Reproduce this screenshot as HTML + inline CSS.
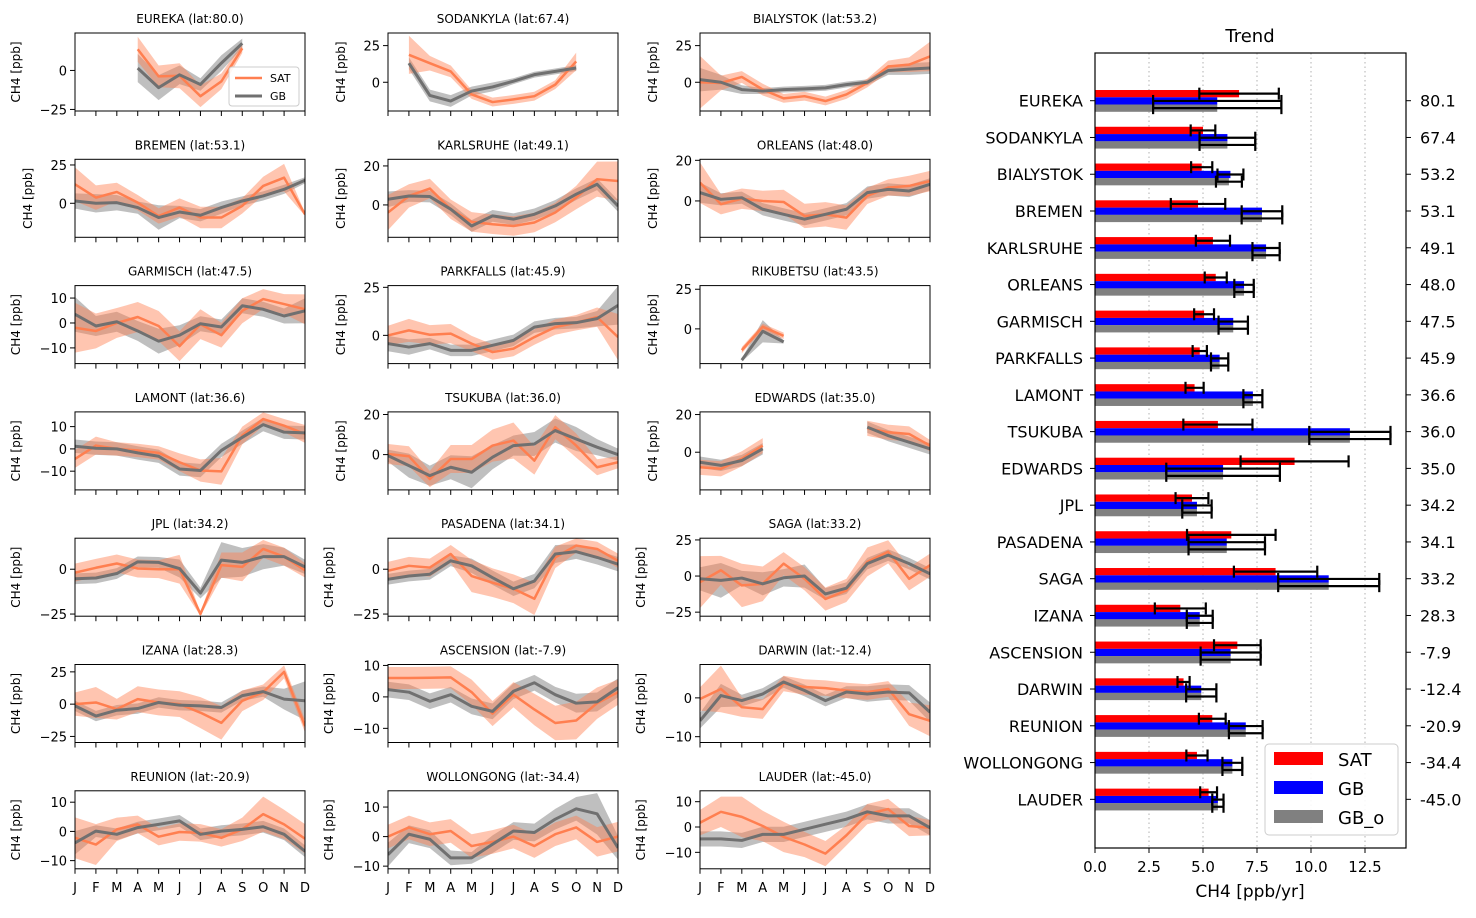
<!DOCTYPE html>
<html><head><meta charset="utf-8">
<style>
html,body{margin:0;padding:0;background:#fff;}
svg{display:block;font-family:"DejaVu Sans","Liberation Sans",sans-serif;}
</style></head>
<body>
<svg id="fig" width="1476" height="918" viewBox="0 0 1476 918" xmlns="http://www.w3.org/2000/svg"></svg>
<script>
// ---------- small panel data ----------
const months = ['J','F','M','A','M','J','J','A','S','O','N','D'];
const stationNames = ['EUREKA','SODANKYLA','BIALYSTOK','BREMEN','KARLSRUHE','ORLEANS','GARMISCH','PARKFALLS','RIKUBETSU','LAMONT','TSUKUBA','EDWARDS','JPL','PASADENA','SAGA','IZANA','ASCENSION','DARWIN','REUNION','WOLLONGONG','LAUDER'];
const stationLats = ['80.0','67.4','53.2','53.1','49.1','48.0','47.5','45.9','43.5','36.6','36.0','35.0','34.2','34.1','33.2','28.3','-7.9','-12.4','-20.9','-34.4','-45.0'];
const N = null;
const satMean = [
 [N,N,N,13.6,-3.8,-3.4,-16.5,-7,14.2,N,N,N],
 [N,18.7,13,7.4,-8.3,-13.5,-11.7,-9.5,-1.6,14.2,N,N],
 [0,-0.5,3.6,-5,-11,-9.5,-12.8,-8.3,-0.5,10.8,12,17.6],
 [12.4,3.7,7.4,0.4,-8.3,-2.8,-9.3,-9.3,-1.7,11.3,16.7,-7.2],
 [-3.9,4.6,8.4,-2.2,-8.7,-9.9,-10.8,-9,-3.9,3.8,13.2,12.3],
 [9,-1.6,1.1,0,-0.5,-7.4,-6.6,-8.2,2.5,6.6,7.4,9.8],
 [-1.9,-3.2,0,2.4,-1.2,-9.3,-0.5,-4.9,4.9,9.6,7.6,5.5],
 [0,2.6,0.3,0.9,-4.3,-8.7,-6.9,-0.9,4.3,6.6,9.5,-0.9],
 [N,N,-13.4,1.3,-4.4,N,N,N,N,N,N,N],
 [-4.5,1.5,0,-0.7,-1.8,-6,-9.7,-10.1,6,13.4,10.4,6.7],
 [0.3,-0.8,-12.2,-2.2,-2.2,4.5,7,-3,13.7,4.5,-6.3,-3.8],
 [-8,-8.8,-3.5,3.5,N,N,N,N,12.7,10.6,9.7,3.5],
 [-1.9,0.8,3.2,0.4,0,0,-25,2.3,1.3,11.3,7,-0.6],
 [-0.9,1.9,0.9,8.5,-3.8,-7.5,-10.9,-16.5,6.6,13.2,11.3,4.7],
 [-4.2,4,-6.5,-5.4,8.6,-1.9,-15.9,-10,9.8,16.8,-1.9,7.5],
 [0,1.3,-3.9,3.9,1.3,0,-6.6,-14.5,2.6,9.2,25,-17],
 [6,6,6.1,6.2,1.5,-5.3,0.7,-4,-8.3,-7.5,-2,1.5],
 [-0.3,2.3,-2.4,-2.9,3.7,2.8,2.5,1.9,1.5,2.3,-4.2,-5.9],
 [-2.2,-4.5,0.7,2.4,-1.8,-0.2,-0.5,-2.2,0.7,5.9,2.4,-2.5],
 [0,3.1,0.8,1.9,-3.2,-1.8,0,-3.2,0.8,3.1,-1.8,0],
 [1.7,6,4,0.4,-3.9,-6.9,-10.5,-3.3,5.1,7.1,0.4,-0.3]
];
const satSpread = [
 [0,0,0,8,7,8,7,5,3,0,0,0],
 [0,13,5,4,3,3,3,3,3,6,0,0],
 [18,5,4,4,3,3,3,3,3,4,5,10],
 [11,8,6,5,5,6,7,7,5,6,9,1],
 [9,6,5,5,5,5,5,5,5,6,9,10],
 [10,5,5,5,6,6,6,6,4,4,5,5],
 [10,7,6,6,6,6,6,5,5,4,4,6],
 [5,6,5,5,4,4,4,4,4,4,5,12],
 [0,0,2,2,2,0,0,0,0,0,0,0],
 [4,4,3,3,3,4,5,6,4,3,3,4],
 [5,5,4,7,7,8,9,7,6,6,4,3],
 [4,4,4,4,0,0,0,0,4,4,4,3],
 [5,5,5,5,5,8,1,7,8,5,5,4],
 [5,5,5,5,9,8,8,9,6,4,4,4],
 [18,10,15,12,8,8,8,8,10,8,8,8],
 [9,12,8,10,10,10,12,13,8,6,5,5],
 [3.5,3.5,3.5,3.5,4,4,4,5,5.5,6,5,4],
 [3,6,2.5,2.5,2,2,2,2,2,2,3,4],
 [7,7,4,3,3,3,3,3,4,6,5,5],
 [4,4,4,4,4,4,4,4,4,4,5,5],
 [5,6,8,6,6,5,5,4,4,4,4,3]
];
const gbMean = [
 [N,N,N,1.5,-11,-2.8,-9,4.7,17.4,N,N,N],
 [N,13,-9,-12.8,-6,-3.2,0.7,5.2,7.4,9.7,N,N],
 [1.8,0,-5,-6,-5,-4.5,-3.8,-1.6,0,8,9,9.7],
 [1.5,0,0.4,-2.8,-9.3,-5.7,-7.8,-2.8,1.5,4.8,9.1,15],
 [2.9,4.6,4.3,-2.2,-10.8,-5.6,-7.3,-4.8,-0.5,5.5,10.6,-0.5],
 [4.1,0.8,1.6,-4.1,-6.6,-9,-6.6,-4.1,4.1,5.7,4.9,8.2],
 [3.5,-1.2,0.5,-3.2,-7.3,-4.9,-0.3,-1.6,6.9,5.5,2.8,4.9],
 [-4.3,-6.1,-4.3,-7.8,-7.8,-5.2,-2.6,4.3,6.1,6.6,8.7,15.6],
 [N,N,-19.7,-1.5,-8.2,N,N,N,N,N,N,N],
 [1.2,0.3,0,-1.8,-3.3,-9,-9.7,-0.7,5.2,10.9,7.5,7.2],
 [-0.5,-5.5,-10.5,-6.3,-8.8,-1.3,4.5,5.3,12,7.8,3.7,0],
 [-5.3,-7,-4.4,1.8,N,N,N,N,13.3,8.8,5.3,1.8],
 [-5.3,-4.9,-2.4,4.1,3.8,0.4,-13.3,5.1,3.8,7,7,1.3],
 [-5.6,-3.8,-2.8,4.7,1.9,-4.7,-10.9,-6.6,8.5,9.8,6.6,2.8],
 [-1.9,-3,-1.4,-5.4,-1.2,0,-12.4,-8.4,8.6,14.5,8.6,1.6],
 [-1.3,-9.2,-4.7,-3.4,1.3,-0.8,-1.3,-2.6,6.6,9.7,3.9,2.6],
 [2.3,1.5,-1.4,0.7,-3,-4.6,1.8,4.5,0.7,-2,-1.6,2.9],
 [-5.9,0.6,-0.7,1,4.1,1.9,-0.7,1.5,1,1.5,1.3,-3.7],
 [-3.9,0.1,-1,1.3,2.4,3.6,-1,0.1,0.7,1.6,-1,-6.8],
 [-6.1,0.8,-0.9,-7.2,-7.2,-2.6,1.9,1.4,5.9,9.4,7.7,-3.8],
 [-4.7,-4.7,-5.3,-2.9,-2.9,-0.9,1.1,3.1,6,4.4,4.4,-0.3]
];
const gbSpread = [
 [0,0,0,9,8,6,4,5,3,0,0,0],
 [0,4,4,4,3,3,2,2,2,2,0,0],
 [8,5,3,2,2,2,2,2,2,3,4,4],
 [5,6,5,4,8,4,4,4,3,3,3,2],
 [4,3,3,3,3,3,3,3,3,3,3,3],
 [5,3,3,3,3,3,3,3,3,3,3,3],
 [7,4,4,4,5,4,3,3,3,3,3,5],
 [4,4,3,3,3,3,3,3,3,3,4,10],
 [0,0,1,7,1,0,0,0,0,0,0,0],
 [3,3,3,3,3,3,3,3,3,3,3,3],
 [3,6,5,6,8,6,5,6,6,6,4,3],
 [3,3,3,3,0,0,0,0,3,3,3,3],
 [3,3,3,3,3,5,3,10,8,7,5,4],
 [3,3,3,3,4,4,4,4,5,4,4,4],
 [8,12,5,8,6,8,4,4,4,4,4,4],
 [4,4,4,4,4,4,4,4,4,4,8,15],
 [2.5,2.5,2.5,2.5,2.5,2.5,2.5,2.5,2.5,3,3,3],
 [2,3,1.5,1.5,1.5,1.5,1.5,1.5,2,2,2,2.5],
 [4,2,2,2,2,2,2,2,2,2,2,2],
 [4,3,3,2.5,2,3,3,3,3.5,4,7,4],
 [3,3,3,3,3,3,3,3,3,3,3,3]
];
const panelYMin = [-26,-19.6,-19.6,-22.2,-16.6,-17.9,-16.3,-14.7,-21.9,-18.4,-17.6,-20,-26.2,-26.2,-27.8,-29.7,-14.5,-11.5,-12.8,-10.9,-16.5];
const panelYMax = [24,33.6,33.6,28.7,23.4,20.5,15,25.9,27.3,16.6,21.3,21.4,17.3,17.3,26.2,30.7,10.3,8.6,13.9,15.5,14.3];
const panelYTicks = [[-25,0],[0,25],[0,25],[0,25],[0,20],[0,20],[-10,0,10],[0,25],[0,25],[-10,0,10],[0,20],[0,20],[-25,0],[-25,0],[-25,0,25],[-25,0,25],[-10,0,10],[-10,0],[-10,0,10],[-10,0,10],[-10,0,10]];

// ---------- trend bar chart data ----------
const trendStations = ['EUREKA','SODANKYLA','BIALYSTOK','BREMEN','KARLSRUHE','ORLEANS','GARMISCH','PARKFALLS','LAMONT','TSUKUBA','EDWARDS','JPL','PASADENA','SAGA','IZANA','ASCENSION','DARWIN','REUNION','WOLLONGONG','LAUDER'];
const trendLats = ['80.1','67.4','53.2','53.1','49.1','48.0','47.5','45.9','36.6','36.0','35.0','34.2','34.1','33.2','28.3','-7.9','-12.4','-20.9','-34.4','-45.0'];
const satTrend = [6.67,5.0,4.94,4.77,5.46,5.59,5.05,4.85,4.61,5.69,9.24,4.49,6.31,8.36,3.95,6.59,4.1,5.43,4.72,5.26];
const satErr   = [1.84,0.57,0.49,1.26,0.79,0.51,0.46,0.33,0.42,1.6,2.5,0.76,2.05,1.93,1.18,1.08,0.28,0.62,0.49,0.39];
const gbTrend  = [5.66,6.13,6.27,7.73,7.92,6.9,6.4,5.77,7.31,11.8,5.93,4.72,6.1,10.82,4.85,6.28,4.92,6.98,6.36,5.69];
const gbErr    = [2.97,1.29,0.6,0.94,0.63,0.45,0.68,0.4,0.44,1.88,2.63,0.68,1.77,2.34,0.6,1.39,0.7,0.78,0.46,0.26];
const gboTrend = [5.66,6.13,6.2,7.73,7.92,6.9,6.4,5.77,7.31,11.8,5.93,4.72,6.1,10.82,4.85,6.28,4.92,6.98,6.36,5.69];
const gboErr   = [2.97,1.29,0.6,0.94,0.63,0.45,0.68,0.4,0.44,1.88,2.63,0.68,1.77,2.34,0.6,1.39,0.7,0.78,0.46,0.26];
const trendTicks = [0,2.5,5,7.5,10,12.5];
const trendTickLabels = ['0.0','2.5','5.0','7.5','10.0','12.5'];

// ---------- drawing ----------
const NS='http://www.w3.org/2000/svg';
const svg=document.getElementById('fig');
function mk(tag,attrs,parent){const e=document.createElementNS(NS,tag);for(const k in attrs)e.setAttribute(k,attrs[k]);(parent||svg).appendChild(e);return e;}
const colLeft=[75,388,700], PW=230, PH=78;
const SATC='#ff7f50', GBC='#707070';

function segments(vals){const segs=[];let cur=[];vals.forEach((v,i)=>{if(v===null){if(cur.length)segs.push(cur);cur=[];}else cur.push(i);});if(cur.length)segs.push(cur);return segs;}

stationNames.forEach((name,p)=>{
  const col=p%3,row=Math.floor(p/3);
  const L=colLeft[col],T=33+row*126.3;
  const g=mk('g',{});
  
  
  const xs=i=>L+i*PW/11;
  const ys=v=>T+PH*(panelYMax[p]-v)/(panelYMax[p]-panelYMin[p]);
  const clip='clip'+p;
  const cp=mk('clipPath',{id:clip},g);mk('rect',{x:L,y:T,width:PW,height:PH},cp);
  const inner=mk('g',{'clip-path':'url(#'+clip+')'},g);
  const series=[[gbMean[p],gbSpread[p],GBC,'gb'],[satMean[p],satSpread[p],SATC,'sat']];
  // bands first
  series.forEach(([m,s,c,nm])=>{
    segments(m).forEach(seg=>{
      const up=seg.map(i=>xs(i)+','+ys(m[i]+s[i]));
      const dn=seg.slice().reverse().map(i=>xs(i)+','+ys(m[i]-s[i]));
      const band=mk('polygon',{points:up.concat(dn).join(' '),fill:c,'fill-opacity':nm==='sat'?0.45:0.45},inner);
      
      
    });
  });
  // lines: SAT then GB on top
  [series[1],series[0]].forEach(([m,s,c,nm])=>{
    segments(m).forEach(seg=>{
      const ln=mk('polyline',{points:seg.map(i=>xs(i)+','+ys(m[i])).join(' '),fill:'none',stroke:c,'stroke-width':nm==='gb'?3:2.5,'stroke-linejoin':'round'},inner);
      
      
    });
  });
  // frame
  const fr=mk('rect',{x:L,y:T,width:PW,height:PH,fill:'none',stroke:'#000','stroke-width':1},g);
  
  
  // x ticks
  months.forEach((m,i)=>{
    mk('line',{x1:xs(i),x2:xs(i),y1:T+PH,y2:T+PH+5,stroke:'#000','stroke-width':1},g);
    if(row===6){const t=mk('text',{x:xs(i),y:T+PH+23,'font-size':13,'text-anchor':'middle'},g);t.textContent=m;
      
      }
  });
  // y ticks
  let wide=false;
  panelYTicks[p].forEach(v=>{
    const y=ys(v);
    mk('line',{x1:L-5,x2:L,y1:y,y2:y,stroke:'#000','stroke-width':1},g);
    const lab=v<0?'\u2212'+Math.abs(v):String(v);
    if(lab.length>=3)wide=true;
    const t=mk('text',{x:L-8,y:y+5,'font-size':13,'text-anchor':'end'},g);t.textContent=lab;
    
    
  });
  const yl=wide?L-55:L-43;
  const yt=mk('text',{x:yl,y:T+PH/2,'font-size':12,'text-anchor':'middle',transform:'rotate(-90 '+yl+' '+(T+PH/2)+')'},g);
  yt.textContent='CH4  [ppb]';
  
  
  const tt=mk('text',{x:L+PW/2,y:T-10,'font-size':12,'text-anchor':'middle'},g);
  tt.textContent=name+' (lat:'+stationLats[p]+')';
  
  
  if(p===0){
    const lg=mk('g',{},g);
    
    
    mk('rect',{x:229,y:67,width:70,height:39,rx:3,fill:'#fff','fill-opacity':0.85,stroke:'#ccc'},lg);
    mk('line',{x1:235,x2:262,y1:78,y2:78,stroke:SATC,'stroke-width':2.5},lg);
    mk('line',{x1:235,x2:262,y1:96,y2:96,stroke:GBC,'stroke-width':3},lg);
    const a=mk('text',{x:270,y:82,'font-size':11},lg);a.textContent='SAT';
    const b=mk('text',{x:270,y:100,'font-size':11},lg);b.textContent='GB';
  }
});

// ---------- trend chart ----------
const BL=1095,BR=1406,BT=53,BB=848;
const bx=v=>BL+v*21.6;
const by=i=>100.7+i*36.77;
const tg=mk('g',{});


trendTicks.forEach((v,k)=>{
  if(v>0){const gl=mk('line',{x1:bx(v),x2:bx(v),y1:BT,y2:BB,stroke:'#b0b0b0','stroke-width':1,'stroke-dasharray':'1.5,3'},tg);
    
    }
  mk('line',{x1:bx(v),x2:bx(v),y1:BB,y2:BB+5,stroke:'#000'},tg);
  const t=mk('text',{x:bx(v),y:BB+24,'font-size':15,'text-anchor':'middle'},tg);t.textContent=trendTickLabels[k];
  
  
});
const barSets=[[satTrend,satErr,'#ff0000',-10.7,'sat'],[gbTrend,gbErr,'#0000ff',-3.4,'gb'],[gboTrend,gboErr,'#808080',3.8,'gb-o']];
barSets.forEach(([vals,errs,c,off,nm])=>{
  vals.forEach((v,i)=>{
    const r=mk('rect',{x:BL,y:by(i)+off,width:bx(v)-BL,height:7.3,fill:c},tg);
    
    
  });
});
barSets.forEach(([vals,errs,c,off,nm])=>{
  vals.forEach((v,i)=>{
    const yc=by(i)+off+3.65;
    const e=mk('g',{stroke:'#000','stroke-width':2.2},tg);
    
    
    mk('line',{x1:bx(v-errs[i]),x2:bx(v+errs[i]),y1:yc,y2:yc},e);
    mk('line',{x1:bx(v-errs[i]),x2:bx(v-errs[i]),y1:yc-6,y2:yc+6},e);
    mk('line',{x1:bx(v+errs[i]),x2:bx(v+errs[i]),y1:yc-6,y2:yc+6},e);
  });
});
trendStations.forEach((s,i)=>{
  mk('line',{x1:BL-5,x2:BL,y1:by(i),y2:by(i),stroke:'#000'},tg);
  mk('line',{x1:BR,x2:BR+5,y1:by(i),y2:by(i),stroke:'#000'},tg);
  const t=mk('text',{x:BL-12,y:by(i)+6,'font-size':16,'text-anchor':'end'},tg);t.textContent=s;
  
  
  const t2=mk('text',{x:BR+14,y:by(i)+6,'font-size':16},tg);t2.textContent=trendLats[i];
  
  
});
mk('rect',{x:BL,y:BT,width:BR-BL,height:BB-BT,fill:'none',stroke:'#000','stroke-width':1.2},tg);
const ttl=mk('text',{x:1250,y:42,'font-size':18,'text-anchor':'middle'},tg);ttl.textContent='Trend';


const xl=mk('text',{x:1250,y:897,'font-size':17,'text-anchor':'middle'},tg);xl.textContent='CH4 [ppb/yr]';


const lg=mk('g',{},tg);


mk('rect',{x:1265,y:744,width:133,height:91,rx:4,fill:'#fff','fill-opacity':0.9,stroke:'#ccc'},lg);
[['SAT','#ff0000'],['GB','#0000ff'],['GB_o','#808080']].forEach(([lab,c],k)=>{
  mk('rect',{x:1274,y:752+k*29,width:49,height:13,fill:c},lg);
  const t=mk('text',{x:1338,y:766+k*29,'font-size':18},lg);t.textContent=lab;
});
</script>
</body></html>
